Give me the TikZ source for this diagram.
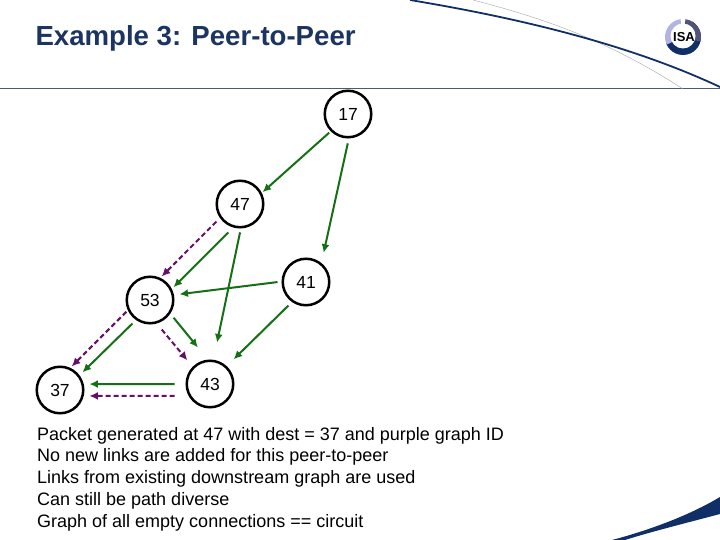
\documentclass[tikz,border=0pt]{standalone}
\usepackage{fontspec}
\setmainfont{Liberation Sans}
\usetikzlibrary{arrows.meta}
\definecolor{slidenavy}{HTML}{0F2F66}
\definecolor{titleblue}{HTML}{1B3560}
\definecolor{rulegray}{HTML}{4A5A70}
\definecolor{linkgreen}{HTML}{156F15}
\definecolor{linkpurple}{HTML}{660F66}
\begin{document}
\begin{tikzpicture}[
            x = 1pt, y = -1pt,
            station/.style={draw, circle, line width = 2.5pt, minimum size = 46.5pt, inner sep = 0pt, font=\fontsize{17.5}{17.5}\selectfont},
            link/.style={line width = 2pt, color=linkgreen, -{Latex[length=8.5pt, width=8pt]}},
            dashlink/.style={link, color=linkpurple, dash pattern=on 5pt off 3pt},
            ]
        \useasboundingbox (0, 0) rectangle (720, 540);

        % slide frame
        \draw[rulegray, line width = 1pt] (0, 89) -- (720, 89);
        \draw[gray!70, line width = .4pt] (473, 0) .. controls (530, 15) and (600, 35) .. (683, 89);
        \draw[slidenavy, line width = 1.8pt] (410, 0) .. controls (500, 15) and (620, 40) .. (720, 87);
        \fill[slidenavy] (612, 540) .. controls (650, 530) and (690, 515) .. (720, 497) -- (720, 514) .. controls (690, 522) and (650, 532) .. (625, 540) -- cycle;

        % logo
        \fill[slidenavy] (683, 37) circle (18);
        \fill[white] (683, 37) -- +(-200:19) arc[start angle=-200, end angle=-60, radius=19] -- cycle;
        \fill[gray!50!blue!40] (683, 37) -- +(-205:18) arc[start angle=-205, end angle=-98, radius=18] -- cycle;
        \fill[gray!80!blue!80!black] (683, 37) -- +(-82:18) arc[start angle=-82, end angle=15, radius=18] -- cycle;
        \fill[white] (683, 36) circle (12.5);
        \node[font=\fontsize{13}{13}\selectfont\bfseries] (logo) at (684, 37) {ISA};

        \node[anchor=west, text=titleblue, font=\fontsize{27.6}{27.6}\selectfont\bfseries] (title) at (32, 38) {Example 3: Peer-to-Peer};

        \foreach \n/\x/\y in {17/348/114, 47/240/204, 41/306/282, 53/150/300, 37/60/390, 43/210/384}
            \node[station] (\n) at (\x, \y) {\n};

        % anchors and gaps: from / angle / to / angle / gap at start / gap at end
        \foreach \src/\sa/\dst/\da/\gs/\gd in {17/225/47/27/2/1, 17/272/41/51/5/10.5, 47/272/43/82/4/17.6, 47/254/53/27/7/2.4,
                41/179/53/12/4/5.6, 41/235/43/47/5/9.7, 53/326/43/95/5.2/15.7, 53/235/37/37/5/4.2, 43/180/37/14/11/5.7}
            \draw[link, shorten <=\gs pt, shorten >=\gd pt] (\src.\sa) -- (\dst.\da);

        \foreach \src/\sa/\dst/\da/\gs/\gd in {47/215/53/65/5/1.9, 53/286/43/135/7.8/8.3, 53/205/37/65/2/1.9, 43/209/37/346/14/5.7}
            \draw[dashlink, shorten <=\gs pt, shorten >=\gd pt] (\src.\sa) -- (\dst.\da);

        \node[anchor=north west, align=left, inner sep=0pt, font=\fontsize{18}{21.7}\selectfont] (notes) at (37, 427) {Packet generated at 47 with dest = 37 and purple graph ID\\
            No new links are added for this peer-to-peer\\
            Links from existing downstream graph are used\\
            Can still be path diverse\\
            Graph of all empty connections == circuit};
    \end{tikzpicture}
\end{document}
